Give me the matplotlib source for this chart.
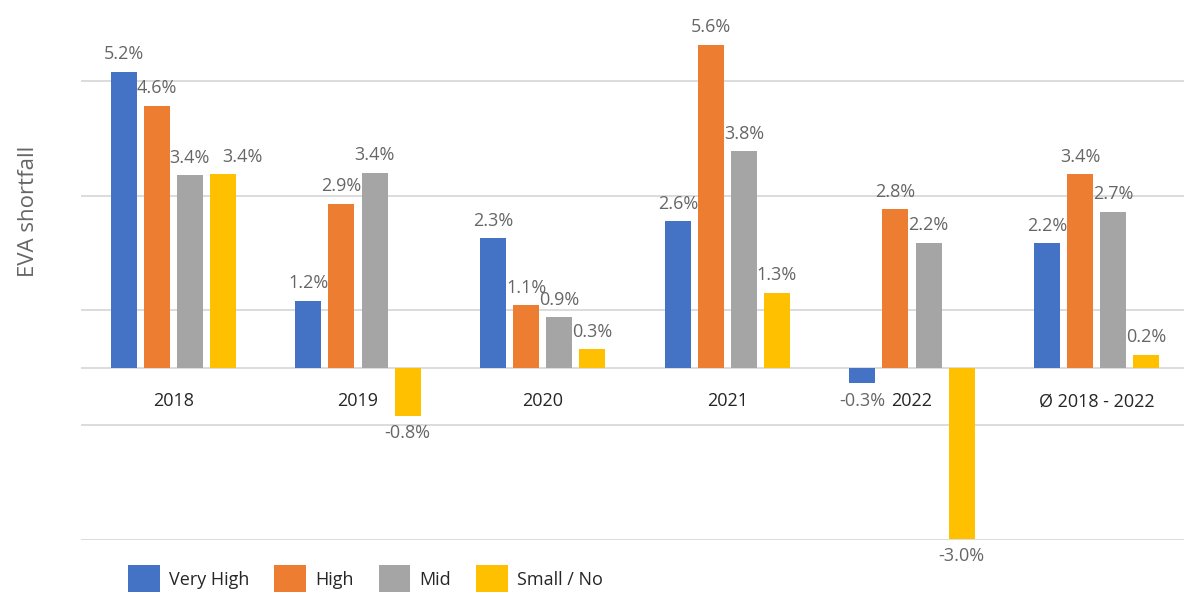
import numpy as np
import matplotlib
matplotlib.use("Agg")
import matplotlib.pyplot as plt

plt.rcParams['font.family'] = ['Open Sans', 'DejaVu Sans']

# data (EVA shortfall in %)
categories = ["2018", "2019", "2020", "2021", "2022", "Ø 2018 - 2022"]
series_names = ["Very High", "High", "Mid", "Small / No"]
very_high = [5.16, 1.17, 2.26, 2.56, -0.27, 2.17]
high = [4.57, 2.86, 1.09, 5.63, 2.76, 3.37]
mid = [3.36, 3.40, 0.88, 3.77, 2.18, 2.72]
small_no = [3.38, -0.84, 0.32, 1.31, -2.98, 0.23]
colors = ["#4472C4", "#ED7D31", "#A5A5A5", "#FFC000"]

fig = plt.figure(figsize=(11.84, 5.92), dpi=100)
ax = fig.add_axes([81 / 1184, 1 - 540 / 592, 1108 / 1184, (540 - 23.5) / 592])

x = np.arange(len(categories))
width = 0.141
step = 0.179

# gridlines every 2% starting at -3, plus zero line
for g in [-3, -1, 1, 3, 5, 0]:
    ax.axhline(g, color="#d9d9d9", lw=1.3, zorder=0)

# the 2018 "Small / No" label sits shifted to the right in the original (avoids overlap)
nudge = {(3, 0): 14}

for i, (name, vals) in enumerate(zip(series_names, [very_high, high, mid, small_no])):
    pos = x + (i - 1.5) * step
    ax.bar(pos, vals, width, color=colors[i], label=name, zorder=2)
    for j, (xp, v) in enumerate(zip(pos, vals)):
        dx = nudge.get((i, j), 0)
        if v >= 0:
            ax.annotate(f"{v:.1f}%", (xp, v), xytext=(dx, 6), textcoords="offset points",
                        ha="center", va="bottom", fontsize=13, color="#666666")
        else:
            ax.annotate(f"{v:.1f}%", (xp, v), xytext=(dx, -6), textcoords="offset points",
                        ha="center", va="top", fontsize=13, color="#666666")

# category labels just below the zero line
for xi, c in zip(x, categories):
    ax.annotate(c, (xi, 0), xytext=(0, -24), textcoords="offset points",
                ha="center", va="center", fontsize=13, color="#262626")

ax.set_xlim(-0.5, len(categories) - 0.5)
ax.set_ylim(-3, 6)
ax.set_xticks([])
ax.set_yticks([])
for s in ax.spines.values():
    s.set_visible(False)

fig.text(28 / 1184, 1 - 211 / 592, "EVA shortfall", rotation=90, ha="center", va="center",
         fontsize=16, color="#666666")

fig.legend(loc="upper left", bbox_to_anchor=(128 / 1184, 1 - 565 / 592), ncol=4,
           frameon=False, fontsize=13, handlelength=1.75, handleheight=2.0,
           handletextpad=0.5, columnspacing=1.4, borderpad=0, borderaxespad=0,
           labelcolor="#262626")

fig.savefig("out.png", dpi=100)
